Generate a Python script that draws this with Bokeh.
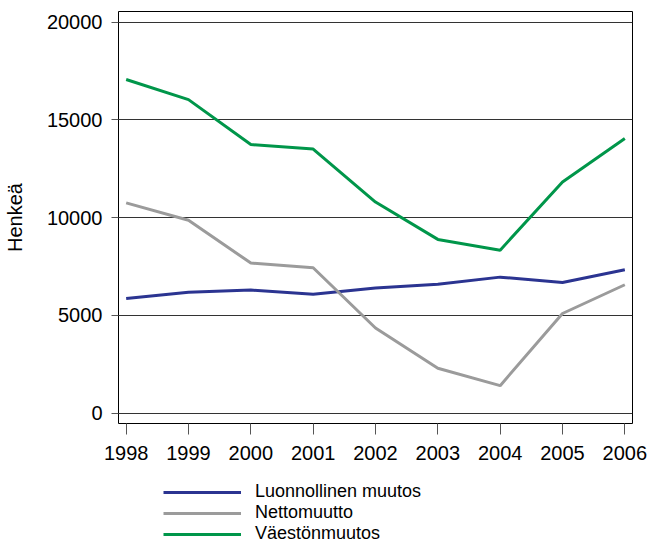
from bokeh.plotting import figure
from bokeh.models import Range1d, Legend, LegendItem, FixedTicker
from bokeh.layouts import column
from bokeh.embed import file_html
from bokeh.resources import INLINE

years = [1998, 1999, 2000, 2001, 2002, 2003, 2004, 2005, 2006]
luonnollinen = [5870, 6190, 6300, 6080, 6400, 6600, 6960, 6690, 7340]
nettomuutto = [10760, 9870, 7680, 7440, 4360, 2300, 1410, 5100, 6570]
vaestonmuutos = [17070, 16040, 13740, 13510, 10800, 8890, 8340, 11830, 14050]
y_ticks = [0, 5000, 10000, 15000, 20000]
series_labels = ["Luonnollinen muutos", "Nettomuutto", "Väestönmuutos"]
colors = ["#2b3491", "#9b9b9b", "#00964a"]
series = [luonnollinen, nettomuutto, vaestonmuutos]

FONT = "Liberation Sans"

p = figure(frame_width=514, frame_height=412,
           min_border_left=118, min_border_right=21,
           min_border_top=11, min_border_bottom=50,
           x_range=Range1d(1997.877, 2006.123),
           y_range=Range1d(-526, 20546),
           output_backend="svg", toolbar_location=None)

p.outline_line_color = "black"
p.outline_line_width = 1
p.background_fill_color = "white"
p.border_fill_color = "white"

p.xgrid.visible = False
p.ygrid.grid_line_color = "#333333"
p.ygrid.grid_line_width = 1

p.xaxis.ticker = FixedTicker(ticks=years)
p.yaxis.ticker = FixedTicker(ticks=y_ticks)
p.xaxis.minor_tick_line_color = None
p.yaxis.minor_tick_line_color = None
for ax in (p.xaxis, p.yaxis):
    ax.axis_line_color = None
    ax.major_tick_line_color = "#555555"
    ax.major_tick_line_width = 1
    ax.major_label_text_font = FONT
    ax.major_label_text_font_size = "20px"
    ax.major_label_text_color = "black"
    ax.major_tick_in = 0

p.xaxis.major_tick_out = 11
p.xaxis.major_label_standoff = 11
p.yaxis.major_tick_out = 7
p.yaxis.major_label_standoff = 9

p.yaxis.axis_label = "Henkeä"
p.yaxis.axis_label_text_font = FONT
p.yaxis.axis_label_text_font_size = "20px"
p.yaxis.axis_label_text_font_style = "normal"
p.yaxis.axis_label_text_color = "black"
p.yaxis.axis_label_standoff = 18

for vals, col in zip(series, colors):
    p.line(years, vals, line_color=col, line_width=3)

# Legend strip below the chart
pl = figure(width=118 + 514 + 21, height=72,
            min_border_left=0, min_border_right=0, min_border_top=0, min_border_bottom=0,
            x_range=Range1d(0, 1), y_range=Range1d(0, 1),
            x_axis_location=None, y_axis_location=None,
            output_backend="svg", toolbar_location=None)
pl.outline_line_color = None
pl.grid.visible = False
pl.background_fill_color = "white"
pl.border_fill_color = "white"

leg_renderers = []
for vals, col in zip(series, colors):
    leg_renderers.append(pl.line(years, vals, line_color=col, line_width=3))

legend = Legend(items=[LegendItem(label=lab, renderers=[r]) for lab, r in zip(series_labels, leg_renderers)],
                location=(45, 1))
legend.padding = 0
legend.margin = 0
legend.spacing = 0
legend.glyph_width = 78
legend.glyph_height = 20
legend.label_height = 20
legend.label_standoff = 14
legend.label_text_font = FONT
legend.label_text_font_size = "18px"
legend.label_text_color = "black"
legend.border_line_color = None
legend.background_fill_alpha = 0
pl.add_layout(legend, "center")

layout = column(p, pl, spacing=0)
open("out.html", "w").write(file_html(layout, INLINE))
